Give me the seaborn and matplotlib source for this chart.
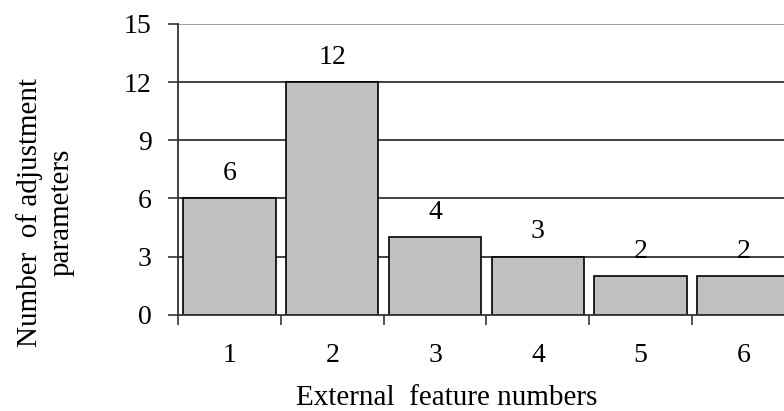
import matplotlib
matplotlib.use("Agg")
import matplotlib.pyplot as plt
import seaborn as sns
import pandas as pd

# data
features = ['1', '2', '3', '4', '5', '6']
params = [6, 12, 4, 3, 2, 2]
y_ticks = [0, 3, 6, 9, 12, 15]

df = pd.DataFrame({'feature': features, 'params': params})

sns.set_style('white')
plt.rcParams['font.family'] = ['Liberation Serif', 'DejaVu Serif']
plt.rcParams['text.color'] = 'black'
plt.rcParams['xtick.color'] = 'black'
plt.rcParams['ytick.color'] = 'black'

fs = 20

fig = plt.figure(figsize=(7.84, 4.11), dpi=100)
ax = fig.add_axes([0.227, 0.234, 0.787, 0.708])

sns.barplot(data=df, x='feature', y='params', color='#c0c0c0',
            edgecolor='black', linewidth=1.2, width=0.9, saturation=1,
            ax=ax, zorder=3)

# horizontal grid lines
for v in y_ticks[1:]:
    col = '#999999' if v == 15 else '#333333'
    ax.axhline(v, color=col, linewidth=1.3, zorder=1)

ax.set_ylim(0, 15)
ax.set_xlim(-0.5, len(features) - 0.5)
ax.set_yticks(y_ticks)
ax.set_yticklabels([str(t) for t in y_ticks], fontsize=fs)

# ticks between categories, labels under the bars
ax.set_xticks([i - 0.5 for i in range(len(features) + 1)])
ax.set_xticklabels([])
ax.set_xticks(range(len(features)), minor=True)
ax.set_xticklabels(features, minor=True, fontsize=fs)
ax.tick_params(axis='x', which='major', direction='out', length=7, width=1.2, color='#333333')
ax.tick_params(axis='x', which='minor', length=0, pad=20)
ax.tick_params(axis='y', direction='out', length=7, width=1.2, color='#333333', pad=12)
ax.tick_params(left=True, bottom=True)

for s in ['top', 'right']:
    ax.spines[s].set_visible(False)
for s in ['left', 'bottom']:
    ax.spines[s].set_color('#333333')
    ax.spines[s].set_linewidth(1.3)
    ax.spines[s].set_zorder(4)

ax.bar_label(ax.containers[0], labels=[str(p) for p in params], padding=9, fontsize=fs)

ax.set_xlabel('')
ax.set_ylabel('')
fig.text(0.570, 0.014, 'External  feature numbers', ha='center', va='baseline', fontsize=21)
fig.text(0.058, 0.483, 'Number  of adjustment\nparameters', rotation=90, ha='center',
         va='center', multialignment='center', fontsize=21, linespacing=1.3)

fig.savefig('out.png', dpi=100)
